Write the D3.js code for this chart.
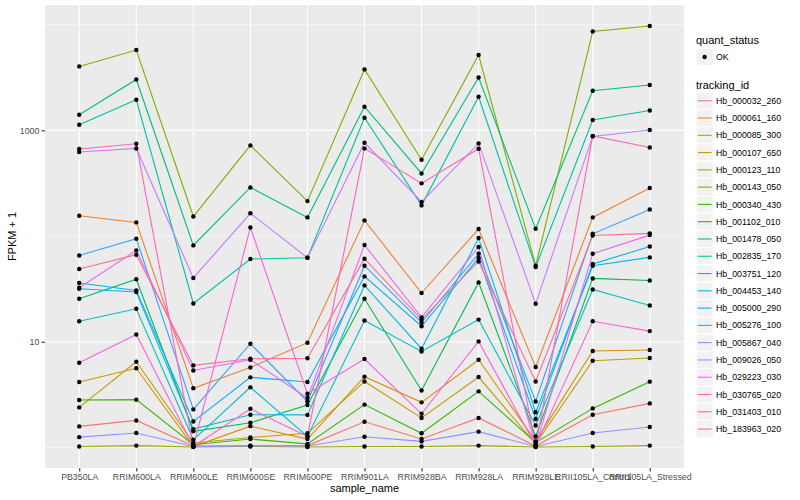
<!DOCTYPE html>
<html><head><meta charset="utf-8">
<script src="https://cdn.jsdelivr.net/npm/d3@7"></script>
<style>body{margin:0;background:#fff} text{font-family:"Liberation Sans",Arial,Helvetica,sans-serif}</style>
</head><body><svg id="chart" width="800" height="500"></svg>
<script>
// ---- data (FPKM + 1) ----
const samples = ["PB350LA","RRIM600LA","RRIM600LE","RRIM600SE","RRIM600PE","RRIM901LA","RRIM928BA","RRIM928LA","RRIM928LE","RRII105LA_Control","RRII105LA_Stressed"];
const trackingIds = ["Hb_000032_260","Hb_000061_160","Hb_000085_300","Hb_000107_650","Hb_000123_110","Hb_000143_050","Hb_000340_430","Hb_001102_010","Hb_001478_050","Hb_002835_170","Hb_003751_120","Hb_004453_140","Hb_005000_290","Hb_005276_100","Hb_005867_040","Hb_009026_050","Hb_029223_030","Hb_030765_020","Hb_031403_010","Hb_183963_020"];
const colors = ["#F8766D","#EA8331","#D89000","#C09B00","#A3A500","#7CAE00","#39B600","#00BB4E","#00BF7D","#00C1A3","#00BFC4","#00BAE0","#00B0F6","#35A2FF","#9590FF","#C77CFF","#E76BF3","#FA62DB","#FF62BC","#FF6C91"];
const quantStatus = ["OK"];
const yTickValues = [10, 1000];
const yTickLabels = ["10", "1000"];

const hb_000032_260 = [1.58, 1.80, 1.03, 1.04, 1.04, 1.75, 1.20, 1.90, 1.03, 2.04, 2.61];
const hb_000061_160 = [155.6, 134.5, 3.63, 5.71, 9.79, 140.5, 28.9, 116.5, 5.76, 150, 284.5];
const hb_000085_300 = [4.16, 5.61, 1.02, 1.59, 1.20, 4.67, 2.67, 6.76, 1.14, 8.17, 8.35];
const hb_000107_650 = [2.39, 6.47, 1.10, 1.24, 1.36, 4.21, 1.90, 4.63, 1.08, 6.61, 7.01];
const hb_000123_110 = [1.02, 1.04, 1.01, 1.02, 1.01, 1.02, 1.02, 1.04, 1.01, 1.02, 1.04];
const hb_000143_050 = [4025, 5750, 153, 720, 214, 3770, 527, 5155, 52.4, 8630, 9700];
const hb_000340_430 = [2.81, 2.83, 1.06, 1.20, 1.08, 2.54, 1.36, 3.39, 1.11, 2.34, 4.19];
const hb_001102_010 = [25.5, 39.0, 1.42, 1.71, 2.52, 25.5, 3.46, 36.4, 1.27, 39.7, 38.0];
const hb_001478_050 = [1405, 3030, 81.5, 288, 150, 1672, 391, 3165, 117, 2370, 2683];
const hb_002835_170 = [1130, 1948, 23.0, 60.6, 62.3, 1316, 195, 2080, 50.9, 1252, 1543];
const hb_003751_120 = [15.6, 20.5, 1.18, 3.70, 1.27, 15.9, 8.09, 16.2, 1.61, 31.2, 22.0];
const hb_004453_140 = [31.7, 29.5, 1.49, 2.04, 2.03, 34.1, 8.59, 95.7, 2.15, 52.4, 62.8];
const hb_005000_290 = [35.9, 30.6, 1.76, 4.60, 4.16, 41.5, 14.0, 61.9, 1.86, 54.3, 79.7];
const hb_005276_100 = [65.5, 94.3, 2.29, 9.57, 2.72, 52.4, 15.2, 68.0, 2.72, 105, 178.5];
const hb_005867_040 = [1.25, 1.37, 1.02, 1.03, 1.03, 1.26, 1.14, 1.41, 1.02, 1.37, 1.56];
const hb_009026_050 = [623, 674, 40.1, 164, 62.3, 763, 210, 752, 22.9, 876, 1007];
const hb_029223_030 = [32.4, 73.1, 5.35, 6.76, 2.93, 82.2, 17.0, 78.7, 1.03, 68.0, 102];
const hb_030765_020 = [6.33, 11.7, 1.02, 120.5, 3.22, 6.86, 2.08, 10.07, 1.04, 15.6, 12.6];
const hb_031403_010 = [665, 747, 1.02, 2.32, 1.27, 675, 315, 670, 1.02, 887, 689];
const hb_183963_020 = [48.7, 66.5, 5.97, 6.90, 6.98, 61.0, 16.2, 57.5, 4.21, 101, 106];

const seriesValues = [hb_000032_260, hb_000061_160, hb_000085_300, hb_000107_650, hb_000123_110, hb_000143_050, hb_000340_430, hb_001102_010, hb_001478_050, hb_002835_170, hb_003751_120, hb_004453_140, hb_005000_290, hb_005276_100, hb_005867_040, hb_009026_050, hb_029223_030, hb_030765_020, hb_031403_010, hb_183963_020];

const series = trackingIds.map((id, i) => ({
  id, color: colors[i],
  pts: samples.map((s, j) => ({sample: s, value: seriesValues[i][j]}))
}));

// ---- layout ----
const svg = d3.select("#chart");
const P = {left: 45, right: 684, top: 5, bottom: 468};

const x = d3.scalePoint().domain(samples).range([P.left, P.right]).padding(0.6);
const allVals = seriesValues.flat();
const lmin = Math.log10(d3.min(allVals)), lmax = Math.log10(d3.max(allVals));
const ex = (lmax - lmin) * 0.05;
const y = d3.scaleLog().domain([Math.pow(10, lmin - ex), Math.pow(10, lmax + ex)]).range([P.bottom, P.top]);

// panel
svg.append("rect").attr("x", P.left).attr("y", P.top)
  .attr("width", P.right - P.left).attr("height", P.bottom - P.top).attr("fill", "#EBEBEB");

const grid = svg.append("g");
// minor horizontal
[1, 100, 10000].forEach(v => {
  const yy = y(v);
  if (yy >= P.top && yy <= P.bottom)
    grid.append("line").attr("x1", P.left).attr("x2", P.right).attr("y1", yy).attr("y2", yy)
      .attr("stroke", "#fff").attr("stroke-width", 0.55);
});
// major horizontal
yTickValues.forEach(v => {
  grid.append("line").attr("x1", P.left).attr("x2", P.right).attr("y1", y(v)).attr("y2", y(v))
    .attr("stroke", "#fff").attr("stroke-width", 1.1);
});
// vertical
samples.forEach(s => {
  grid.append("line").attr("x1", x(s)).attr("x2", x(s)).attr("y1", P.top).attr("y2", P.bottom)
    .attr("stroke", "#fff").attr("stroke-width", 1.1);
});

// lines
const line = d3.line().x(d => x(d.sample)).y(d => y(d.value));
svg.append("g").selectAll("path").data(series).join("path")
  .attr("d", d => line(d.pts)).attr("fill", "none")
  .attr("stroke", d => d.color).attr("stroke-width", 1.1);

// points
svg.append("g").selectAll("g").data(series).join("g")
  .selectAll("circle").data(d => d.pts).join("circle")
  .attr("cx", d => x(d.sample)).attr("cy", d => y(d.value)).attr("r", 2.2).attr("fill", "#000");

// axes
const yAxis = d3.axisLeft(y).tickValues(yTickValues).tickFormat((d, i) => yTickLabels[i]).tickSize(3.5).tickPadding(2.2);
const gy = svg.append("g").attr("transform", `translate(${P.left},0)`).call(yAxis);
const xAxis = d3.axisBottom(x).tickSize(3.5).tickPadding(2.2);
const gx = svg.append("g").attr("transform", `translate(0,${P.bottom})`).call(xAxis);
[gx, gy].forEach(g => {
  g.select(".domain").remove();
  g.selectAll(".tick line").attr("stroke", "#333333").attr("stroke-width", 1.1);
  g.selectAll(".tick text").attr("fill", "#4D4D4D").style("font-size", "8.8px")
    .style("font-family", '"Liberation Sans",Arial,sans-serif');
});

// titles
svg.append("text").attr("x", (P.left + P.right) / 2).attr("y", 492).attr("text-anchor", "middle")
  .style("font-size", "11px").attr("fill", "#000").text("sample_name");
svg.append("text").attr("transform", `translate(16,${(P.top + P.bottom) / 2}) rotate(-90)`)
  .attr("text-anchor", "middle").style("font-size", "11px").attr("fill", "#000").text("FPKM + 1");

// legends
const LX = 696, KS = 17.28;
const lg = svg.append("g");
lg.append("text").attr("x", LX).attr("y", 44).style("font-size", "11px").text("quant_status");
quantStatus.forEach((q, i) => {
  const ky = 48.4 + i * KS;
  lg.append("rect").attr("x", LX).attr("y", ky).attr("width", KS).attr("height", KS)
    .attr("fill", "#F2F2F2").attr("stroke", "#fff").attr("stroke-width", 1);
  lg.append("circle").attr("cx", LX + KS / 2).attr("cy", ky + KS / 2).attr("r", 2.2).attr("fill", "#000");
  lg.append("text").attr("x", 716).attr("y", ky + KS / 2).attr("dy", "0.35em").style("font-size", "8.8px").text(q);
});
lg.append("text").attr("x", LX).attr("y", 88.5).style("font-size", "11px").text("tracking_id");
series.forEach((s, i) => {
  const ky = 92.1 + i * KS;
  lg.append("rect").attr("x", LX).attr("y", ky).attr("width", KS).attr("height", KS)
    .attr("fill", "#F2F2F2").attr("stroke", "#fff").attr("stroke-width", 1);
  lg.append("line").attr("x1", LX + 1.7).attr("x2", LX + KS - 1.7).attr("y1", ky + KS / 2).attr("y2", ky + KS / 2)
    .attr("stroke", s.color).attr("stroke-width", 1.1);
  lg.append("text").attr("x", 716).attr("y", ky + KS / 2).attr("dy", "0.35em").style("font-size", "8.8px").text(s.id);
});
</script></body></html>
